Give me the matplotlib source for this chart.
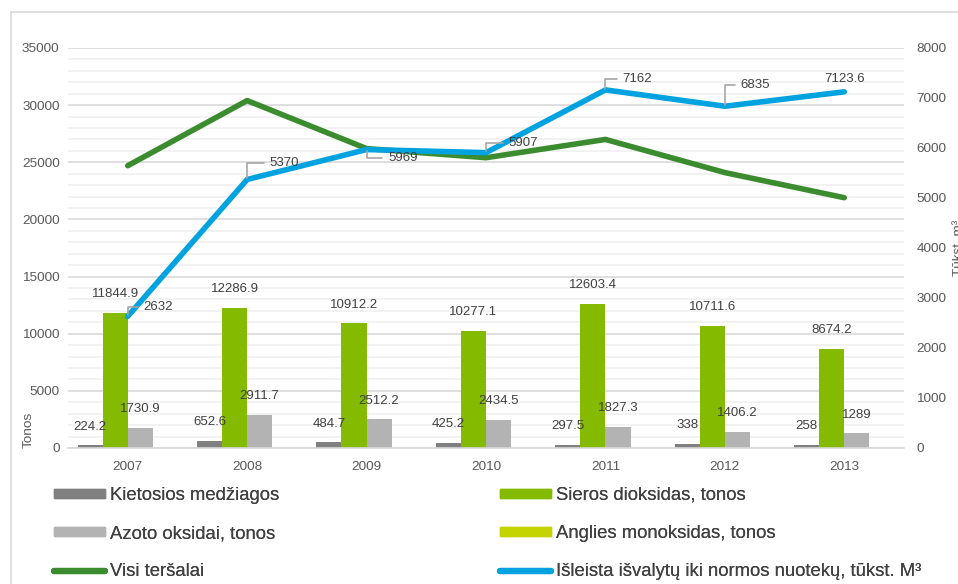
import matplotlib
matplotlib.use("Agg")
import matplotlib.pyplot as plt
import numpy as np
from matplotlib.patches import Rectangle
from matplotlib.lines import Line2D

plt.rcParams['font.family'] = ['Liberation Sans', 'DejaVu Sans']

years = ['2007', '2008', '2009', '2010', '2011', '2012', '2013']
kietosios = [224.2, 652.6, 484.7, 425.2, 297.5, 338, 258]
sieros = [11844.9, 12286.9, 10912.2, 10277.1, 12603.4, 10711.6, 8674.2]
azoto = [1730.9, 2911.7, 2512.2, 2434.5, 1827.3, 1406.2, 1289]
anglies = [0, 0, 0, 0, 0, 0, 0]
visi = [24700, 30400, 26200, 25400, 27000, 24100, 21900]
isleista = [2632, 5370, 5969, 5907, 7162, 6835, 7123.6]
isleista_labels = ['2632', '5370', '5969', '5907', '7162', '6835', '7123.6']

names = ['Kietosios medžiagos', 'Sieros dioksidas, tonos', 'Azoto oksidai, tonos',
         'Anglies monoksidas, tonos', 'Visi teršalai',
         'Išleista išvalytų iki normos nuotekų, tūkst. M³']

c_kiet = '#808080'
c_sier = '#84BA00'
c_azo = '#B3B3B3'
c_ang = '#C3D400'
c_visi = '#3B8C2E'
c_isl = '#00A3DF'
txt = '#404040'
tick_c = '#595959'

W, H = 958, 584
fig = plt.figure(figsize=(W / 100, H / 100), dpi=100)
fig.patches.append(Rectangle((11 / W, -0.1), 1.2, 1 - 12 / H + 0.1, transform=fig.transFigure,
                             fill=False, edgecolor='#D9D9D9', linewidth=1.2))

ax = fig.add_axes([68 / W, 1 - 448 / H, (904 - 68) / W, 400 / H])
ax2 = ax.twinx()

x = np.arange(len(years))
bw = 0.21
series = [(kietosios, c_kiet), (sieros, c_sier), (azoto, c_azo), (anglies, c_ang)]
for i, (vals, col) in enumerate(series):
    off = (i - 1.5) * bw
    ax.bar(x + off, vals, width=bw, color=col, zorder=2)
    if i < 3:
        for xi, v in zip(x, vals):
            ax.annotate(f'{v:g}', (xi + off, v), xytext=(0, 13.5), textcoords='offset points',
                        ha='center', va='center', fontsize=9.5, color=txt, zorder=5)

ax.plot(x, visi, color=c_visi, linewidth=4, solid_capstyle='round', zorder=3)
ax2.plot(x, isleista, color=c_isl, linewidth=4, solid_capstyle='round', zorder=3)

# data label offsets in points for the blue line
offs = [(22, 7), (27, 12), (26, -6), (27, 7), (23, 8), (22, 15), (0, 9)]
for xi, v, lab, (dx, dy) in zip(x, isleista, isleista_labels, offs):
    if dx == 0:
        ax2.annotate(lab, (xi, v), xytext=(dx, dy), textcoords='offset points',
                     ha='center', va='center', fontsize=9.5, color=txt)
    else:
        ax2.annotate(lab, (xi, v), xytext=(dx, dy), textcoords='offset points',
                     ha='center', va='center', fontsize=9.5, color=txt,
                     arrowprops=dict(arrowstyle='-', color='#A6A6A6', lw=1.2,
                                     connectionstyle='angle,angleA=0,angleB=90,rad=0',
                                     shrinkA=2, shrinkB=1))

ax.set_xlim(-0.5, len(years) - 0.5)
ax.set_ylim(0, 35000)
ax2.set_ylim(0, 8000)
ax.set_yticks(np.arange(0, 35001, 5000))
ax.set_yticks(np.arange(0, 35001, 1000), minor=True)
ax2.set_yticks(np.arange(0, 8001, 1000))
ax.set_xticks(x)
ax.set_xticklabels(years)

ax.grid(axis='y', which='major', color='#D9D9D9', linewidth=1.2, zorder=0)
ax.grid(axis='y', which='minor', color='#F0F0F0', linewidth=1.2, zorder=0)
ax.set_axisbelow(True)
for a in (ax, ax2):
    for s in a.spines.values():
        s.set_visible(False)
    a.tick_params(length=0, colors=tick_c, labelsize=9.7)
ax.tick_params(which='minor', length=0)
ax.spines['bottom'].set_visible(True)
ax.spines['bottom'].set_color('#D9D9D9')
ax.spines['bottom'].set_linewidth(1.2)
ax.tick_params(axis='y', pad=6)
ax.tick_params(axis='x', pad=9)
ax2.tick_params(axis='y', pad=9)

ax.set_ylabel('Tonos', loc='bottom', fontsize=9.7, color=tick_c)
ax.yaxis.set_label_coords(-0.04, 0)
ax2.set_ylabel('Tūkst. m³', fontsize=9.7, color=tick_c)
ax2.yaxis.set_label_coords(1.0585, 0.5)

col1_h = [Rectangle((0, 0), 1, 1, color=c_kiet), Rectangle((0, 0), 1, 1, color=c_azo),
          Line2D([], [], color=c_visi, lw=4.5, solid_capstyle='round')]
col1_l = [names[0], names[2], names[4]]
col2_h = [Rectangle((0, 0), 1, 1, color=c_sier), Rectangle((0, 0), 1, 1, color=c_ang),
          Line2D([], [], color=c_isl, lw=4.5, solid_capstyle='round')]
col2_l = [names[1], names[3], names[5]]

for hs, ls, x0 in [(col1_h, col1_l, 54), (col2_h, col2_l, 500)]:
    leg = fig.legend(hs, ls, loc='upper left', bbox_to_anchor=(x0 / W, 1 - 487 / H),
                     frameon=False, fontsize=13.3, handlelength=2.75, handleheight=0.36,
                     handletextpad=0.3, labelspacing=1.14, borderaxespad=0, borderpad=0)
    for t in leg.get_texts():
        t.set_color(txt)
    fig.add_artist(leg)

fig.savefig('out.png', dpi=100)
